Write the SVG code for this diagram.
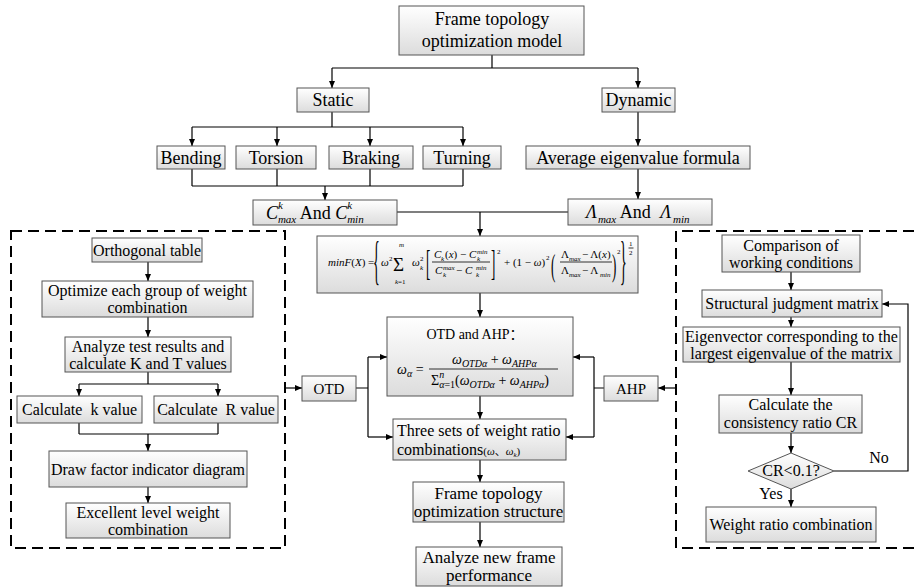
<svg xmlns="http://www.w3.org/2000/svg" width="914" height="587" viewBox="0 0 914 587">
<style>
.bx{fill:url(#g);stroke:#555;stroke-width:1}
.t{font-family:"Liberation Serif","Noto Sans CJK SC",serif;fill:#000;text-anchor:middle}
.s{font-family:"Liberation Serif","Noto Sans CJK SC",serif;fill:#000}
.i{font-style:italic}
.f18{font-size:18px}.f17{font-size:17px}.f16{font-size:16px}.f15{font-size:15px}.f14{font-size:14px}.f11{font-size:11px}.f10{font-size:10px}.f7{font-size:7px}
.ln{fill:none;stroke:#000;stroke-width:1.2}
.ar{marker-end:url(#a)}
.dash{fill:none;stroke:#000;stroke-width:2;stroke-dasharray:11 6}
.fl{stroke:#000;stroke-width:0.8}
</style>
<defs>
<linearGradient id="g" x1="0" y1="0" x2="0" y2="1">
<stop offset="0" stop-color="#ffffff"/>
<stop offset="1" stop-color="#dcdcdc"/>
</linearGradient>
<marker id="a" markerUnits="userSpaceOnUse" markerWidth="8" markerHeight="8" refX="7" refY="3" orient="auto">
<path d="M0,0 L7,3 L0,6 z" fill="#000"/>
</marker>
</defs>

<!-- dashed frames -->
<g id="frame-otd"><path class="dash" d="M11,231 H285 V548 H11 Z"/></g>
<g id="frame-ahp"><path class="dash" d="M914,231 H676 V548 H914"/></g>

<g id="connectors">
<path class="ln" d="M492,55 V68 M332,68 H638"/>
<path class="ln ar" d="M332,68 V88"/>
<path class="ln ar" d="M638,68 V88"/>
<path class="ln" d="M332,112 V127 M192,127 H463"/>
<path class="ln ar" d="M192,127 V146"/>
<path class="ln ar" d="M277,127 V146"/>
<path class="ln ar" d="M370,127 V146"/>
<path class="ln ar" d="M463,127 V146"/>
<path class="ln" d="M192,169 V186 M277,169 V186 M370,169 V186 M463,169 V186 M192,186 H463"/>
<path class="ln ar" d="M325,186 V200"/>
<path class="ln ar" d="M638,112 V146"/>
<path class="ln ar" d="M638,169 V199"/>
<path class="ln" d="M397,212 H568"/>
<path class="ln ar" d="M480,212 V236"/>
<path class="ln ar" d="M480,293 V317"/>
<path class="ln ar" d="M480,396 V419"/>
<path class="ln ar" d="M480,460 V482"/>
<path class="ln ar" d="M480,522 V547"/>
<path class="ln ar" d="M285,388 H302"/>
<path class="ln" d="M356,388 H368 M368,357 V437"/>
<path class="ln ar" d="M368,357 H387"/>
<path class="ln ar" d="M368,437 H393"/>
<path class="ln ar" d="M676,388 H658"/>
<path class="ln" d="M604,388 H594 M594,357 V437"/>
<path class="ln ar" d="M594,357 H573"/>
<path class="ln ar" d="M594,437 H566"/>
<path class="ln ar" d="M148,262 V281"/>
<path class="ln ar" d="M148,317 V337"/>
<path class="ln" d="M148,372 V384 M79,384 H218"/>
<path class="ln ar" d="M79,384 V396"/>
<path class="ln ar" d="M218,384 V396"/>
<path class="ln" d="M79,423 V434 M218,423 V434 M79,434 H218"/>
<path class="ln ar" d="M148,434 V451"/>
<path class="ln ar" d="M148,487 V503"/>
<path class="ln ar" d="M791,272 V290"/>
<path class="ln ar" d="M791,317 V327"/>
<path class="ln ar" d="M791,362 V395"/>
<path class="ln ar" d="M791,433 V453"/>
<path class="ln ar" d="M791,489 V507"/>
<path class="ln ar" d="M834,471 H908 V304 H882"/>
<text class="t f16" x="879" y="463">No</text>
<text class="t f16" x="771" y="499">Yes</text>
</g>

<g id="n-top"><rect class="bx" x="399" y="6" width="185" height="49"/>
<text class="t f18" x="492" y="25">Frame topology</text><text class="t f18" x="492" y="47">optimization model</text></g>
<g id="n-static"><rect class="bx" x="297" y="88" width="72" height="24"/><text class="t f18" x="333" y="106">Static</text></g>
<g id="n-dynamic"><rect class="bx" x="602" y="88" width="73" height="24"/><text class="t f18" x="638.5" y="106">Dynamic</text></g>
<g id="n-bending"><rect class="bx" x="157" y="146" width="68" height="23"/><text class="t f18" x="191" y="164">Bending</text></g>
<g id="n-torsion"><rect class="bx" x="236" y="146" width="80" height="23"/><text class="t f18" x="276" y="164">Torsion</text></g>
<g id="n-braking"><rect class="bx" x="329" y="146" width="84" height="23"/><text class="t f18" x="371" y="164">Braking</text></g>
<g id="n-turning"><rect class="bx" x="423" y="146" width="78" height="23"/><text class="t f18" x="462" y="164">Turning</text></g>
<g id="n-average"><rect class="bx" x="526" y="146" width="224" height="23"/><text class="t f18" x="638" y="164">Average eigenvalue formula</text></g>

<g id="n-c"><rect class="bx" x="253" y="200" width="144" height="25"/>
<text class="s f18" x="266" y="219"><tspan class="i">C</tspan><tspan class="f11 i" dy="-10">k</tspan><tspan class="f11 i" dx="-5" dy="14">max</tspan><tspan dy="-4"> And </tspan><tspan class="i">C</tspan><tspan class="f11 i" dy="-10">k</tspan><tspan class="f11 i" dx="-5" dy="14">min</tspan></text></g>

<g id="n-lambda"><rect class="bx" x="568" y="199" width="144" height="26"/>
<text class="s f18" x="586" y="218"><tspan class="i">Λ</tspan><tspan class="f11 i" dx="1" dy="5">max</tspan><tspan dy="-5"> And </tspan><tspan class="i" dx="5">Λ</tspan><tspan class="f11 i" dx="2" dy="5">min</tspan></text></g>

<g id="n-formula"><rect class="bx" x="317" y="236" width="321" height="57"/>
<text class="s f11" x="328" y="266"><tspan class="i">minF</tspan>(<tspan class="i">X</tspan>) =</text>
<text class="s" font-size="14" transform="translate(373,278) scale(1,3.8)">{</text>
<text class="s f11 i" x="381" y="266">ω</text><text class="s f7" x="389" y="261">2</text>
<text class="s" font-size="19" x="393" y="271">Σ</text>
<text class="s f7 i" x="399" y="247">m</text><text class="s f7" x="395" y="284"><tspan class="i">k</tspan>=1</text>
<text class="s f11 i" x="412" y="266">ω</text><text class="s f7" x="420" y="261">2</text><text class="s f7 i" x="420" y="270">k</text>
<text class="s" font-size="13" transform="translate(426,275) scale(1,2.8)">[</text>
<text class="s f11 i" x="434" y="258">C</text><text class="s f7 i" x="441" y="261">k</text>
<text class="s f11" x="445" y="258">(<tspan class="i">x</tspan>) − <tspan class="i">C</tspan></text>
<text class="s f7 i" x="477" y="254">min</text><text class="s f7 i" x="477" y="261">k</text>
<line class="fl" x1="432" y1="262" x2="490" y2="262"/>
<text class="s f11 i" x="435" y="274">C</text><text class="s f7 i" x="443" y="270">max</text><text class="s f7 i" x="443" y="277">k</text>
<text class="s f11" x="456" y="274"> − <tspan class="i">C</tspan></text>
<text class="s f7 i" x="476" y="270">min</text><text class="s f7 i" x="476" y="277">k</text>
<text class="s" font-size="13" transform="translate(491,275) scale(1,2.8)">]</text>
<text class="s f7" x="497" y="254">2</text>
<text class="s f11" x="504" y="266">+ (1 − <tspan class="i">ω</tspan>)</text><text class="s f7" x="546" y="260">2</text>
<text class="s" font-size="13" transform="translate(551,276) scale(1,2.5)">(</text>
<text class="s f11" x="561" y="258">Λ</text><text class="s f7 i" x="569" y="261">max</text>
<text class="s f11" x="582" y="258">− Λ(<tspan class="i">x</tspan>)</text>
<line class="fl" x1="560" y1="262" x2="612" y2="262"/>
<text class="s f11" x="561" y="274">Λ</text><text class="s f7 i" x="569" y="277">max</text>
<text class="s f11" x="582" y="274">− Λ</text><text class="s f7 i" x="600" y="277">min</text>
<text class="s" font-size="13" transform="translate(612,276) scale(1,2.5)">)</text>
<text class="s f7" x="617" y="254">2</text>
<text class="s" font-size="14" transform="translate(620,278) scale(1,3.8)">}</text>
<text class="s f7" x="629" y="246">1</text><line class="fl" x1="628.5" y1="248" x2="633.5" y2="248"/><text class="s f7" x="629" y="255">2</text>
</g>

<g id="n-otdahp"><rect class="bx" x="387" y="317" width="186" height="79"/>
<text class="t f14" x="475" y="339">OTD and AHP：</text>
<text class="s f14 i" x="397" y="374">ω<tspan class="f10" dy="3">α</tspan><tspan font-style="normal" dy="-3"> =</tspan></text>
<text class="s f14 i" x="452" y="364">ω<tspan class="f10" dy="3">OTDα</tspan><tspan font-style="normal" dy="-3"> + </tspan>ω<tspan class="f10" dy="3">AHPα</tspan></text>
<line class="fl" x1="429" y1="369" x2="558" y2="369"/>
<text class="s f14" x="431" y="385">Σ<tspan class="f10 i" dy="-7">n</tspan><tspan class="f10" dx="-5" dy="10"><tspan class="i">α</tspan>=1</tspan><tspan dy="-3">(</tspan><tspan class="i">ω</tspan><tspan class="f10 i" dy="3">OTDα</tspan><tspan dy="-3"> + </tspan><tspan class="i">ω</tspan><tspan class="f10 i" dy="3">AHPα</tspan><tspan dy="-3">)</tspan></text>
</g>

<g id="n-otd"><rect class="bx" x="302" y="376" width="54" height="25"/><text class="t f15" x="329" y="394">OTD</text></g>
<g id="n-ahp"><rect class="bx" x="604" y="376" width="54" height="25"/><text class="t f15" x="631" y="394">AHP</text></g>

<g id="n-three"><rect class="bx" x="393" y="419" width="173" height="41"/>
<text class="s f16" x="397" y="436">Three sets of weight ratio</text>
<text class="s f16" x="397" y="455">combinations<tspan class="f11">(<tspan class="i">ω</tspan>、<tspan class="i">ω</tspan><tspan class="f7 i" dy="2">k</tspan><tspan dy="-2">)</tspan></tspan></text></g>

<g id="n-structure"><rect class="bx" x="413" y="482" width="151" height="40"/>
<text class="t f17" x="488.5" y="499">Frame topology</text><text class="t f17" x="488.5" y="517">optimization structure</text></g>
<g id="n-analyze"><rect class="bx" x="416" y="547" width="146" height="39"/>
<text class="t f17" x="489" y="563">Analyze new frame</text><text class="t f17" x="489" y="581">performance</text></g>

<g id="n-orth"><rect class="bx" x="92" y="238" width="110" height="24"/><text class="t f16" x="147" y="256">Orthogonal table</text></g>
<g id="n-optimize"><rect class="bx" x="42" y="281" width="211" height="36"/>
<text class="t f16" x="147.5" y="296">Optimize each group of weight</text><text class="t f16" x="147.5" y="313">combination</text></g>
<g id="n-analyzetest"><rect class="bx" x="65" y="337" width="166" height="35"/>
<text class="t f16" x="148" y="352">Analyze test results and</text><text class="t f16" x="148" y="369">calculate K and T values</text></g>
<g id="n-calck"><rect class="bx" x="17" y="396" width="125" height="27"/><text class="t f16" x="79.5" y="415" xml:space="preserve">Calculate  k value</text></g>
<g id="n-calcr"><rect class="bx" x="154" y="396" width="124" height="27"/><text class="t f16" x="216" y="415" xml:space="preserve">Calculate  R value</text></g>
<g id="n-draw"><rect class="bx" x="49" y="451" width="198" height="36"/><text class="t f16" x="148" y="475">Draw factor indicator diagram</text></g>
<g id="n-excellent"><rect class="bx" x="66" y="503" width="164" height="35"/>
<text class="t f16" x="148" y="518">Excellent level weight</text><text class="t f16" x="148" y="535">combination</text></g>

<g id="n-compare"><rect class="bx" x="722" y="235" width="138" height="37"/>
<text class="t f16" x="791" y="251">Comparison of</text><text class="t f16" x="791" y="268">working conditions</text></g>
<g id="n-struct"><rect class="bx" x="702" y="290" width="180" height="27"/><text class="t f16" x="792" y="309">Structural judgment matrix</text></g>
<g id="n-eigen"><rect class="bx" x="683" y="327" width="217" height="35"/>
<text class="t f16" x="791.5" y="342">Eigenvector corresponding to the</text><text class="t f16" x="791.5" y="359">largest eigenvalue of the matrix</text></g>
<g id="n-cr"><rect class="bx" x="719" y="395" width="143" height="38"/>
<text class="t f16" x="790.5" y="410">Calculate the</text><text class="t f16" x="790.5" y="428">consistency ratio CR</text></g>
<g id="n-decision"><polygon class="bx" points="791,453 834,471 791,489 748,471"/><text class="t f16" x="791" y="476">CR&lt;0.1?</text></g>
<g id="n-weight"><rect class="bx" x="706" y="507" width="170" height="35"/><text class="t f16" x="791" y="530">Weight ratio combination</text></g>
</svg>
